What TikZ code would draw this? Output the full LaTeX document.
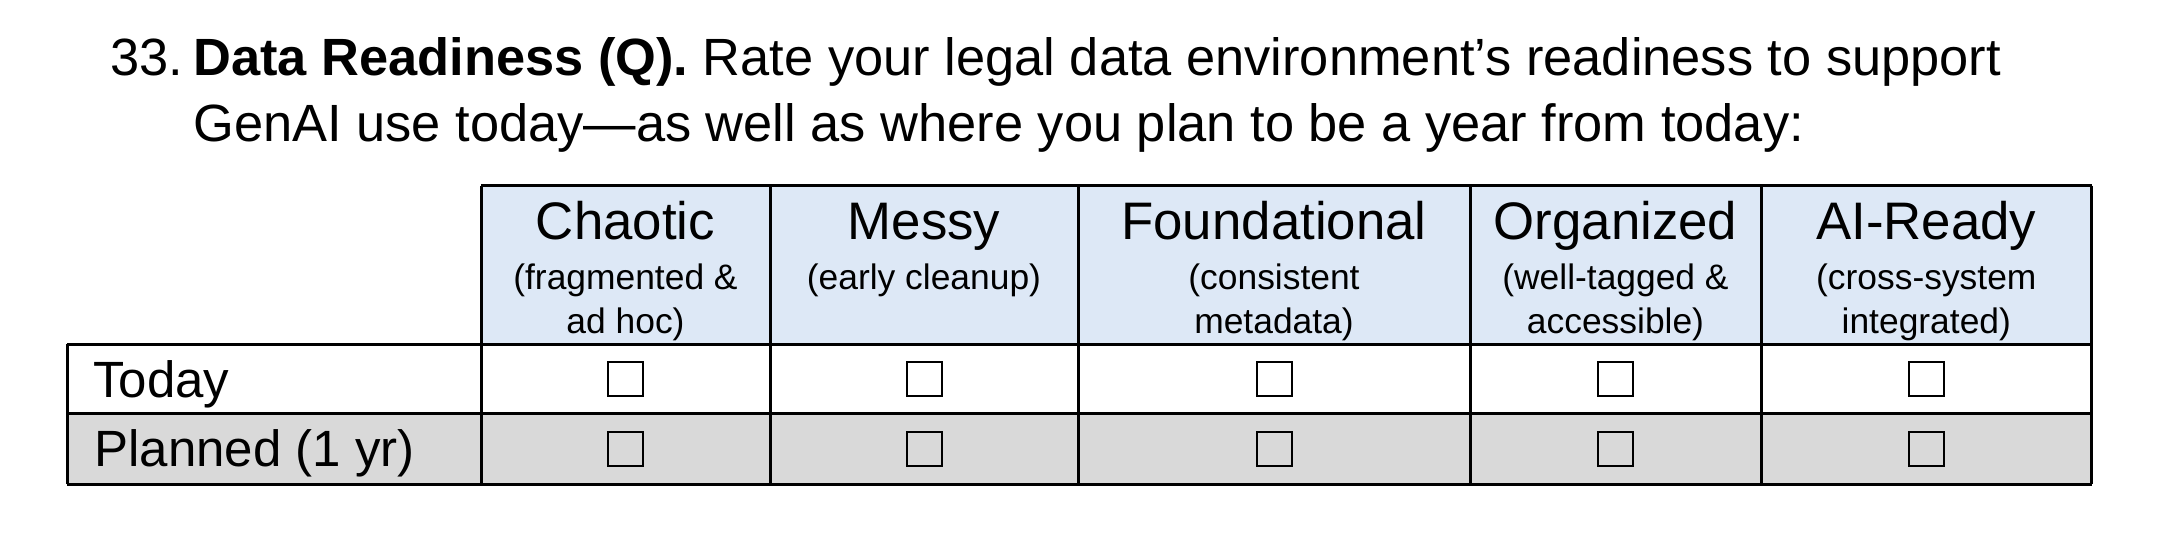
\documentclass[tikz,border=0pt]{standalone}
\usepackage{fontspec}
\setmainfont{Liberation Sans}
\definecolor{hdrblue}{HTML}{DDE8F6}
\definecolor{rowgray}{HTML}{D9D9D9}
\tikzset{
  titletext/.style={anchor=base west, inner sep=0pt, font=\fontsize{26.2}{30}\selectfont},
  hdrmain/.style={anchor=base, inner sep=0pt, font=\fontsize{26.4}{30}\selectfont},
  hdrsub/.style={anchor=base, inner sep=0pt, font=\fontsize{17.7}{22}\selectfont},
  rowlabel/.style={anchor=base west, inner sep=0pt, font=\fontsize{25.5}{30}\selectfont},
  checkbox/.style={draw, line width=1pt, minimum width=17.5pt, minimum height=17pt, inner sep=0pt},
  grid/.style={line width=1.5pt, black},
}
\begin{document}
\begin{tikzpicture}[x=0.5pt, y=-0.5pt]
\useasboundingbox (0,0) rectangle (2180,536);
% title
\node[titletext] (num) at (110,75) {33.};
\node[titletext] (t1) at (193,75) {\textbf{Data Readiness (Q).} Rate your legal data environment’s readiness to support};
\node[titletext] (t2) at (193,141.7) {GenAI use today—as well as where you plan to be a year from today:};
% fills
\fill[hdrblue] (481,185.7) rectangle (2091.6,344);
\fill[rowgray] (67,413.3) rectangle (2091.6,484);
% grid
\draw[grid] (481,185.7) -- (2091.6,185.7);
\draw[grid] (67,344) -- (2091.6,344);
\draw[grid] (67,413.3) -- (2091.6,413.3);
\draw[grid] (67,484) -- (2091.6,484);
\draw[grid] (67,344) -- (67,484);
\foreach \xx in {481,770,1078,1470,1761,2091.6} {
  \draw[grid] (\xx,185.7) -- (\xx,484);
}
% headers
\node[hdrmain] (h1) at (625.5,239) {Chaotic};
\node[hdrmain] (h2) at (924,239) {Messy};
\node[hdrmain] (h3) at (1274,239) {Foundational};
\node[hdrmain] (h4) at (1615.5,239) {Organized};
\node[hdrmain] (h5) at (1926.3,239) {AI-Ready};
\node[hdrsub] (s1a) at (625.5,289) {(fragmented \&};
\node[hdrsub] (s1b) at (625.5,333) {ad hoc)};
\node[hdrsub] (s2a) at (924,289) {(early cleanup)};
\node[hdrsub] (s3a) at (1274,289) {(consistent};
\node[hdrsub] (s3b) at (1274,333) {metadata)};
\node[hdrsub] (s4a) at (1615.5,289) {(well-tagged \&};
\node[hdrsub] (s4b) at (1615.5,333) {accessible)};
\node[hdrsub] (s5a) at (1926.3,289) {(cross-system};
\node[hdrsub] (s5b) at (1926.3,333) {integrated)};
% row labels
\node[rowlabel] (r1) at (92.7,397.7) {Today};
\node[rowlabel] (r2) at (94,466.7) {Planned (1 yr)};
% checkboxes
\foreach \xx/\nm in {625.5/a,924/b,1274/c,1615.5/d,1926.3/e} {
  \node[checkbox] (today\nm) at (\xx,379) {};
  \node[checkbox] (plan\nm) at (\xx,449) {};
}
\end{tikzpicture}
\end{document}
